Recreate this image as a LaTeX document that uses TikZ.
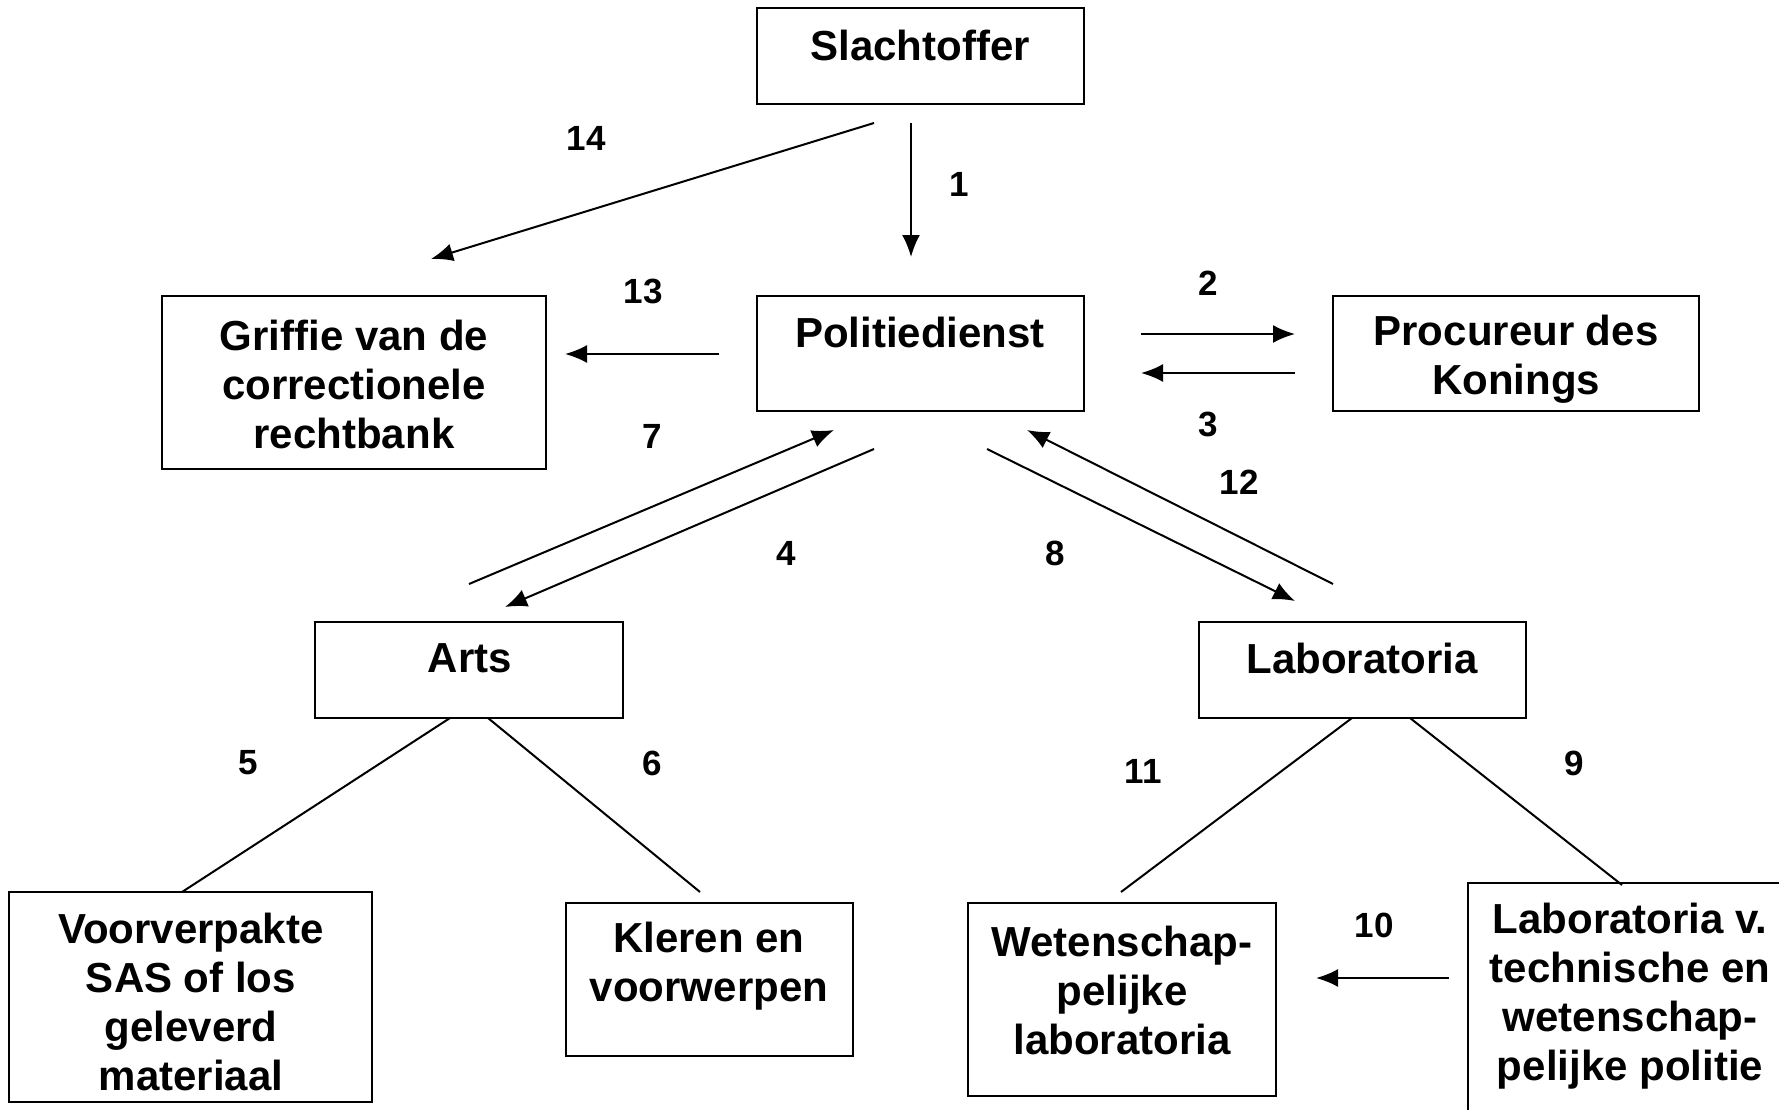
\documentclass[tikz,border=0pt]{standalone}
\usepackage{fontspec}
\setmainfont{Liberation Sans}
\usetikzlibrary{arrows.meta}
\begin{document}
\begin{tikzpicture}[x=1pt,y=-1pt,
  box/.style={draw,line width=2pt,rectangle,inner sep=0pt,outer sep=0pt},
  txt/.style={font=\fontsize{42}{49}\selectfont\bfseries,align=center,inner sep=0pt},
  num/.style={font=\fontsize{35}{40}\selectfont\bfseries,inner sep=0pt},
  con/.style={line width=2pt},
  arr/.style={line width=2pt,-{Latex[length=22pt,width=18pt]}}]
\useasboundingbox (0,0) rectangle (1779,1110);
\clip (0,0) rectangle (1779,1110);
\fill[white] (0,0) rectangle (1779,1110);
% boxes
\node[box,minimum width=327pt,minimum height=96pt] (slacht) at (920.5,56) {};
\node[box,minimum width=327pt,minimum height=115pt] (polit) at (920.5,353.5) {};
\node[box,minimum width=384pt,minimum height=173pt] (griffie) at (354,382.5) {};
\node[box,minimum width=366pt,minimum height=115pt] (proc) at (1516,353.5) {};
\node[box,minimum width=308pt,minimum height=96pt] (arts) at (469,670) {};
\node[box,minimum width=327pt,minimum height=96pt] (lab) at (1362.5,670) {};
\node[box,minimum width=363pt,minimum height=210pt] (voorv) at (190.5,997) {};
\node[box,minimum width=287pt,minimum height=153pt] (kleren) at (709.5,979.5) {};
\node[box,minimum width=308pt,minimum height=193pt] (wet) at (1122,999.5) {};
\node[box,minimum width=332pt,minimum height=247pt] (labv) at (1634,1006.5) {};
% texts
\node[txt] (slachtT) at (920,45) {Slachtoffer};
\node[txt] (politT) at (920,332) {Politiedienst};
\node[txt] (griffieT) at (354,384) {Griffie van de\\correctionele\\rechtbank};
\node[txt] (procT) at (1516,359) {Procureur des\\Konings};
\node[txt] (artsT) at (470,658) {Arts};
\node[txt] (labT) at (1362,658) {Laboratoria};
\node[txt] (voorvT) at (191,1002) {Voorverpakte\\SAS of los\\geleverd\\materiaal};
\node[txt] (klerenT) at (709,966) {Kleren en\\voorwerpen};
\node[txt] (wetT) at (1122,990) {Wetenschap-\\pelijke\\laboratoria};
\node[txt] (labvT) at (1630,996) {Laboratoria v.\\technische en\\wetenschap-\\pelijke politie};
% connector end points
\coordinate (a14s) at (874,123); \coordinate (a14e) at (431,259);
\coordinate (a1s) at (911,123); \coordinate (a1e) at (911,257);
\coordinate (a13s) at (719,354); \coordinate (a13e) at (565,354);
\coordinate (a2s) at (1141,334); \coordinate (a2e) at (1295,334);
\coordinate (a3s) at (1295,373); \coordinate (a3e) at (1141,373);
\coordinate (a7s) at (469,584); \coordinate (a7e) at (834,430);
\coordinate (a4s) at (874,449); \coordinate (a4e) at (505,607);
\coordinate (a8s) at (987,449); \coordinate (a8e) at (1295,601);
\coordinate (a12s) at (1333,584); \coordinate (a12e) at (1027,430);
\coordinate (l5s) at (450,718); \coordinate (l5e) at (182,892);
\coordinate (l6s) at (488,718); \coordinate (l6e) at (700,892);
\coordinate (l11s) at (1352,718); \coordinate (l11e) at (1121,892);
\coordinate (l9s) at (1410,718); \coordinate (l9e) at (1622,885);
\coordinate (a10s) at (1449,978); \coordinate (a10e) at (1316,978);
% connectors
\draw[arr] (a14s) -- (a14e);
\draw[arr] (a1s) -- (a1e);
\draw[arr] (a13s) -- (a13e);
\draw[arr] (a2s) -- (a2e);
\draw[arr] (a3s) -- (a3e);
\draw[arr] (a7s) -- (a7e);
\draw[arr] (a4s) -- (a4e);
\draw[arr] (a8s) -- (a8e);
\draw[arr] (a12s) -- (a12e);
\draw[con] (l5s) -- (l5e);
\draw[con] (l6s) -- (l6e);
\draw[con] (l11s) -- (l11e);
\draw[con] (l9s) -- (l9e);
\draw[arr] (a10s) -- (a10e);
% numbers
\node[num] (n14) at (586,138) {14};
\node[num] (n1) at (959,184) {1};
\node[num] (n13) at (643,291) {13};
\node[num] (n2) at (1208,283) {2};
\node[num] (n3) at (1208,424) {3};
\node[num] (n7) at (652,436) {7};
\node[num] (n12) at (1239,482) {12};
\node[num] (n4) at (786,553) {4};
\node[num] (n8) at (1055,553) {8};
\node[num] (n5) at (248,763) {5};
\node[num] (n6) at (652,763) {6};
\node[num] (n11) at (1143,771) {11};
\node[num] (n9) at (1574,763) {9};
\node[num] (n10) at (1374,925) {10};
\end{tikzpicture}
\end{document}
